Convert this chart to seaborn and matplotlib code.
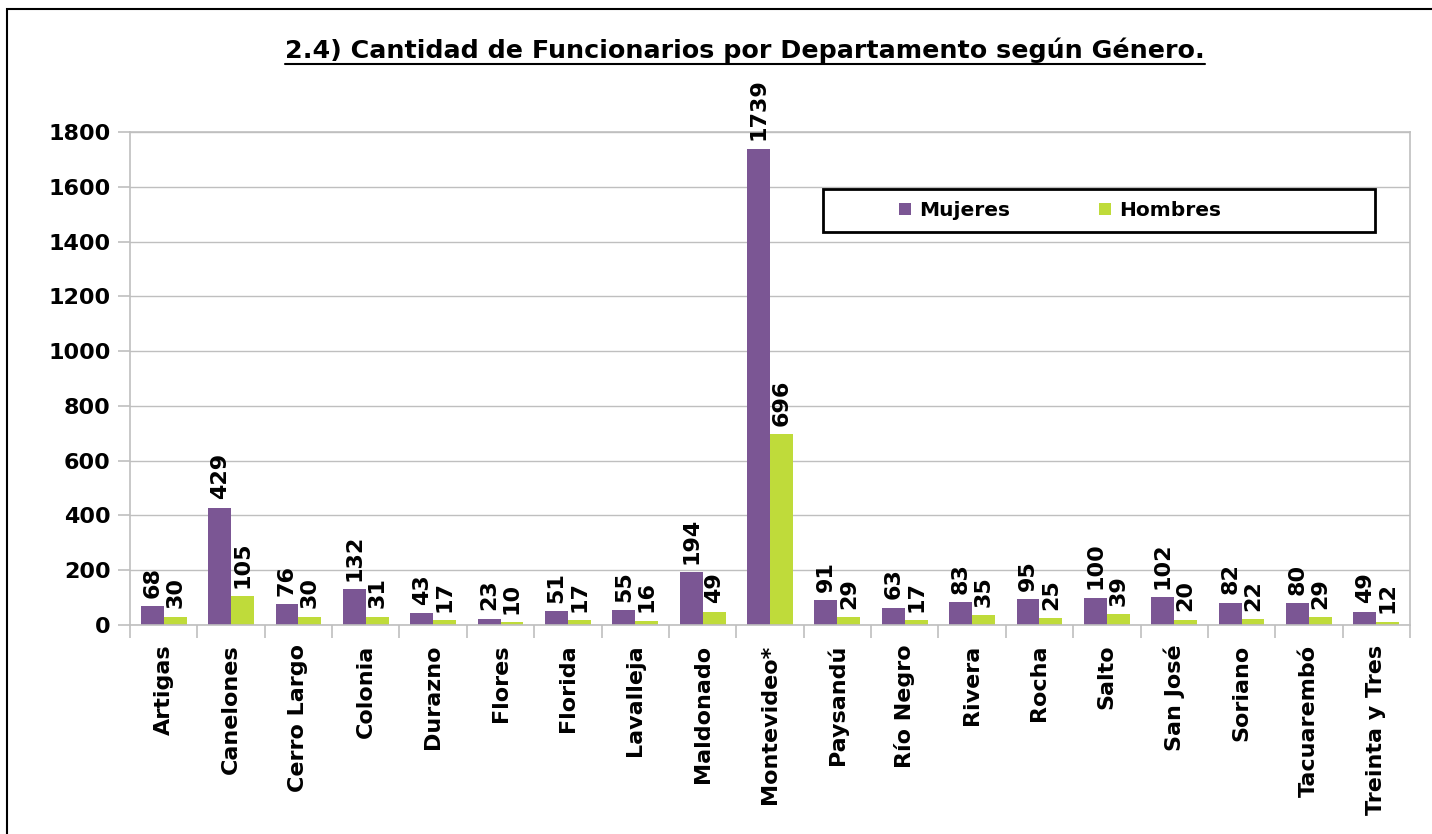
import matplotlib
matplotlib.use("Agg")
import matplotlib.pyplot as plt
from matplotlib.patches import Rectangle, Patch
from matplotlib.lines import Line2D
import seaborn as sns
import pandas as pd

departamentos = ["Artigas", "Canelones", "Cerro Largo", "Colonia", "Durazno", "Flores",
                 "Florida", "Lavalleja", "Maldonado", "Montevideo*", "Paysandú", "Río Negro",
                 "Rivera", "Rocha", "Salto", "San José", "Soriano", "Tacuarembó", "Treinta y Tres"]
mujeres = [68, 429, 76, 132, 43, 23, 51, 55, 194, 1739, 91, 63, 83, 95, 100, 102, 82, 80, 49]
hombres = [30, 105, 30, 31, 17, 10, 17, 16, 49, 696, 29, 17, 35, 25, 39, 20, 22, 29, 12]
series = ["Mujeres", "Hombres"]
yticks = [0, 200, 400, 600, 800, 1000, 1200, 1400, 1600, 1800]
title = "2.4) Cantidad de Funcionarios por Departamento según Género."

purple = "#7B5694"
green = "#BFDB3A"
grid_c = "#BFBFBF"
FS = 16

sns.set_theme(style="white")
plt.rcParams["font.family"] = ["DejaVu Sans"]
plt.rcParams["font.weight"] = "bold"
plt.rcParams["text.color"] = "black"
plt.rcParams["xtick.color"] = "black"
plt.rcParams["ytick.color"] = "black"
plt.rcParams["xtick.labelcolor"] = "black"
plt.rcParams["ytick.labelcolor"] = "black"

df = pd.DataFrame({
    "Departamento": departamentos * 2,
    "Cantidad": mujeres + hombres,
    "Género": [series[0]] * len(departamentos) + [series[1]] * len(departamentos),
})

fig = plt.figure(figsize=(14.32, 8.34), dpi=100)
fig.patch.set_facecolor("white")
ax = fig.add_axes([130 / 1432, 1 - 625 / 834, 1280 / 1432, 493 / 834])

sns.barplot(data=df, x="Departamento", y="Cantidad", hue="Género",
            palette=[purple, green], width=0.68, saturation=1, ax=ax,
            legend=False, errorbar=None, linewidth=0)

for cont in ax.containers:
    ax.bar_label(cont, rotation=90, padding=6, fontsize=FS, fontweight="bold", color="black")

ax.set_ylim(0, 1800)
ax.set_xlim(-0.5, len(departamentos) - 0.5)
ax.set_yticks(yticks)
ax.set_yticklabels([str(v) for v in yticks], fontsize=FS, fontweight="bold", color="black")
ax.yaxis.grid(True, color=grid_c, linewidth=1)
ax.set_axisbelow(True)
ax.set_xlabel("")
ax.set_ylabel("")
for s in ax.spines.values():
    s.set_color(grid_c)
    s.set_linewidth(1.2)

ax.set_xticks(range(len(departamentos)))
ax.set_xticklabels(departamentos, rotation=90, fontsize=FS, fontweight="bold", color="black")
ax.set_xticks([i - 0.5 for i in range(len(departamentos) + 1)], minor=True)
ax.tick_params(axis="x", which="major", length=0, pad=14)
ax.tick_params(axis="x", which="minor", length=9, color=grid_c, width=1.2, bottom=True)
ax.tick_params(axis="y", length=9, color=grid_c, width=1.2, pad=5, left=True)

# Legend box
ax.add_patch(Rectangle(((823 - 130) / 1280, (625 - 232) / 493), (1375 - 823) / 1280, 43 / 493,
                       transform=ax.transAxes, fill=True, facecolor="white",
                       edgecolor="black", linewidth=2, zorder=5))
handles = [Patch(facecolor=purple, edgecolor="none"), Patch(facecolor=green, edgecolor="none")]
leg = ax.legend(handles, series, ncol=2, frameon=False, loc="center",
                bbox_to_anchor=((1060 - 130) / 1280, (625 - 210.5) / 493),
                prop={"size": 14.5, "weight": "bold"}, handlelength=0.6, handleheight=0.6,
                handletextpad=0.4, columnspacing=4.4)
leg.set_zorder(6)
for txt in leg.get_texts():
    txt.set_color("black")

# Title with underline
t = fig.text(745 / 1432, 1 - 50 / 834, title, ha="center", va="center",
             fontsize=18.3, fontweight="bold", color="black")
fig.canvas.draw()
bb = t.get_window_extent()
W, H = fig.bbox.width, fig.bbox.height
uy = (bb.y0 - 1) / H
fig.add_artist(Line2D([bb.x0 / W, bb.x1 / W], [uy, uy], transform=fig.transFigure,
                      color="black", linewidth=1.5))

# Outer border (top and left visible)
fig.add_artist(Rectangle((7 / 1432, -0.2), 1.5, 1.2 - 9 / 834, transform=fig.transFigure,
                         fill=False, edgecolor="black", linewidth=1.5, clip_on=False))

fig.savefig("out.png", dpi=100, facecolor="white")
